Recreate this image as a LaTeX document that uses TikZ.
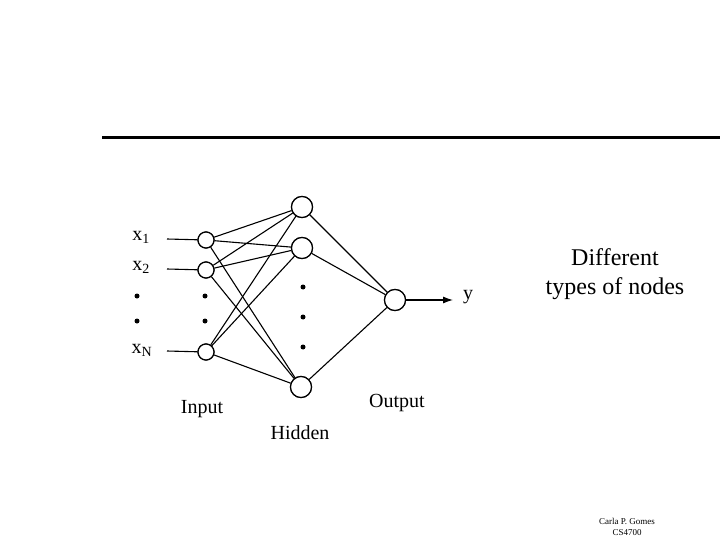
\documentclass[tikz,border=0pt]{standalone}
\usepackage{fontspec}
\setmainfont{Liberation Serif}
\usetikzlibrary{arrows.meta}
\begin{document}
\begin{tikzpicture}[x=1pt,y=-1pt,
  neuron/.style={circle,draw,line width=1.2pt,fill=white,inner sep=0pt},
  innode/.style={neuron,minimum size=16pt},
  hidnode/.style={neuron,minimum size=21pt},
  conn/.style={line width=1.1pt},
  dotm/.style={circle,fill=black,inner sep=0pt,minimum size=5pt},
  lbl/.style={font=\fontsize{20}{24}\selectfont},
  txt/.style={font=\fontsize{24}{29}\selectfont,align=center}]
\useasboundingbox (0,0) rectangle (720,540);
% top rule
\coordinate (r1) at (102,138);
\coordinate (r2) at (720,138);
\draw[line width=3pt] (r1) -- (r2);
% input nodes
\node[innode] (i1) at (206,240) {};
\node[innode] (i2) at (206,270) {};
\node[innode] (iN) at (206,352) {};
\node[dotm] (id1) at (205,296) {};
\node[dotm] (id2) at (205,321) {};
% hidden nodes
\node[hidnode] (h1) at (302,207) {};
\node[hidnode] (h2) at (302,248) {};
\node[hidnode] (h3) at (301,387) {};
\node[dotm] (hd1) at (303,287) {};
\node[dotm] (hd2) at (303,317) {};
\node[dotm] (hd3) at (303,347) {};
% output
\node[hidnode] (o) at (395,300) {};
% labels x
\node[lbl] (x1) at (141,237) {x\textsubscript{1}};
\node[lbl] (x2) at (141,267) {x\textsubscript{2}};
\node[dotm] (xd1) at (137,296) {};
\node[dotm] (xd2) at (137,321) {};
\node[lbl] (xN) at (142,350) {x\textsubscript{N}};
\coordinate (s1) at (167,239);
\coordinate (s2) at (167,269);
\coordinate (sN) at (167,351);
\draw[conn] (s1) -- (i1);
\draw[conn] (s2) -- (i2);
\draw[conn] (sN) -- (iN);
% connections input-hidden
\foreach \a in {i1,i2,iN}{
  \foreach \b in {h1,h2,h3}{
    \draw[conn] (\a) -- (\b);
  }
}
\foreach \b in {h1,h2,h3}{
  \draw[conn] (\b) -- (o);
}
% redraw nodes on top
\node[innode] at (i1) {};
\node[innode] at (i2) {};
\node[innode] at (iN) {};
\node[hidnode] at (h1) {};
\node[hidnode] at (h2) {};
\node[hidnode] at (h3) {};
\node[hidnode] at (o) {};
% output arrow
\coordinate (yend) at (453,300);
\draw[conn,-{Latex[length=10pt,width=7pt]}] (o) -- (yend);
\node[lbl] (y) at (468,297) {y};
% layer labels
\node[lbl] (lin) at (202,409) {Input};
\node[lbl] (lhid) at (300,433) {Hidden};
\node[lbl] (lout) at (397,403) {Output};
% right text
\node[txt] (diff) at (615,274) {Different\\types of nodes};
% footer
\node[font=\fontsize{9}{11}\selectfont,align=center] (foot) at (627,527) {Carla P. Gomes\\CS4700};
\end{tikzpicture}
\end{document}
